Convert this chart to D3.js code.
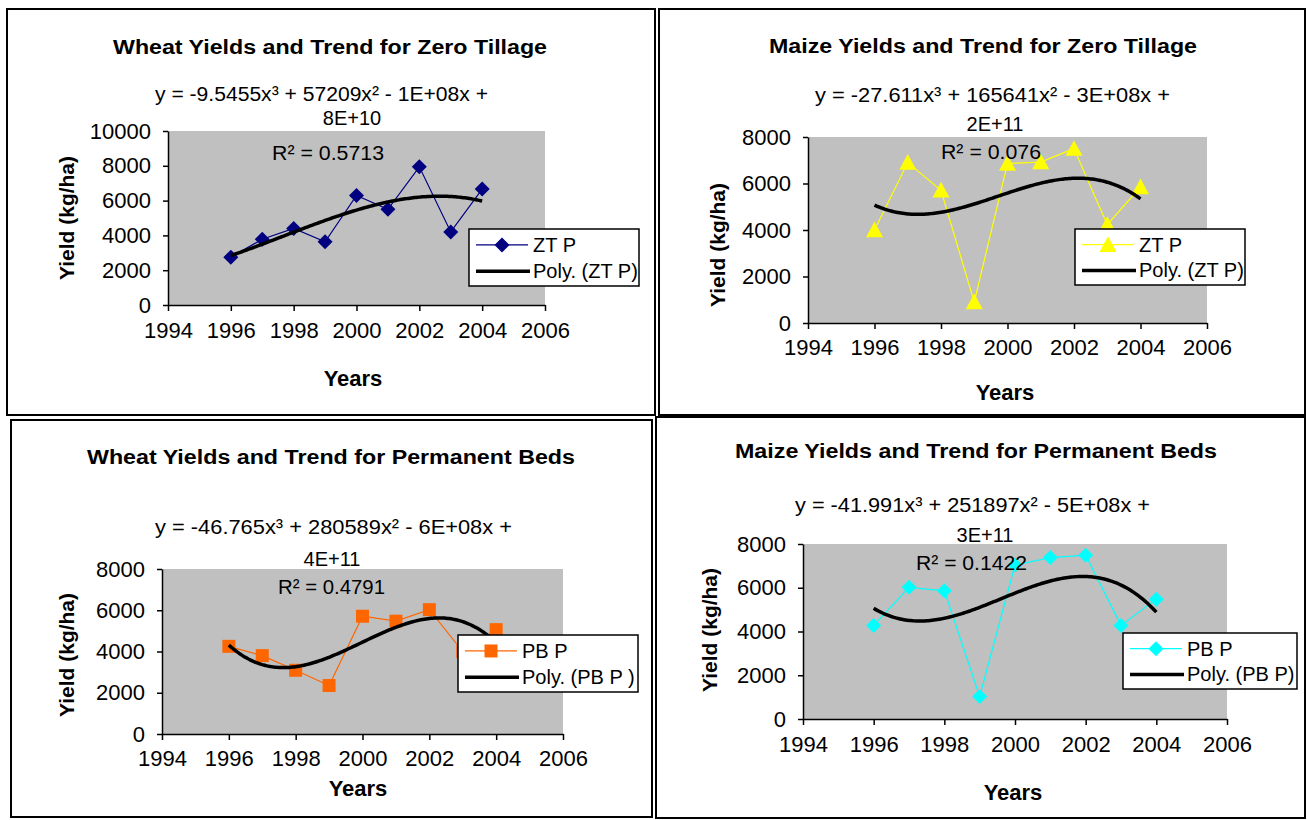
<!DOCTYPE html>
<html><head><meta charset="utf-8">
<script src="https://cdn.jsdelivr.net/npm/d3@7"></script>
<style>body{margin:0;background:#fff} text{font-family:"Liberation Sans",Arial,sans-serif;fill:#000}</style>
</head><body><svg id="c" width="1307" height="820"></svg>
<script>
// ---- data ----
const years = [1996, 1997, 1998, 1999, 2000, 2001, 2002, 2003, 2004];
const wheatZT = [2750, 3780, 4400, 3630, 6300, 5500, 7940, 4200, 6660];
const maizeZT = [4000, 6900, 5710, 900, 6860, 6920, 7500, 4230, 5850];
const wheatPB = [4250, 3800, 3090, 2350, 5710, 5470, 6030, 4000, 5060];
const maizePB = [4280, 6020, 5860, 1030, 7040, 7380, 7490, 4280, 5480];
const xTicks = [1994, 1996, 1998, 2000, 2002, 2004, 2006];
const yTicksA = [0, 2000, 4000, 6000, 8000, 10000];
const yTicksB = [0, 2000, 4000, 6000, 8000];
const titles = ["Wheat Yields and Trend for Zero Tillage", "Maize Yields and Trend for Zero Tillage",
  "Wheat Yields and Trend for Permanent Beds", "Maize Yields and Trend for Permanent Beds"];
const equations = ["y = -9.5455x³ + 57209x² - 1E+08x +", "y = -27.611x³ + 165641x² - 3E+08x +",
  "y = -46.765x³ + 280589x² - 6E+08x +", "y = -41.991x³ + 251897x² - 5E+08x +"];
const eqTails = ["8E+10", "2E+11", "4E+11", "3E+11"];
const r2Labels = ["R² = 0.5713", "R² = 0.076", "R² = 0.4791", "R² = 0.1422"];
const seriesNames = ["ZT P", "ZT P", "PB P", "PB P"];
const trendNames = ["Poly. (ZT P)", "Poly. (ZT P)", "Poly. (PB P )", "Poly. (PB P)"];
const xLabel = "Years";
const yLabel = "Yield (kg/ha)";
const seriesData = [wheatZT, maizeZT, wheatPB, maizePB];
const colors = ["#000080", "#FFFF00", "#FF6600", "#00FFFF"];
const markers = ["diamond", "triangle", "square", "diamond"];
const yTickSets = [yTicksA, yTicksB, yTicksB, yTicksB];

// ---- layout ----
const L = [
 {frame:[7,9,648,406], plot:[168,545,131,305], title:[113,547,47], eq:[155,488,94], eq2:[352,118], r2:[272,384,153], xl:338, years:[353,378], yl:[67,218], leg:[469,229,170,57]},
 {frame:[659,9,646,406], plot:[808,1207,137,323], title:[769,1197,46], eq:[815,1170,95], eq2:[995,124], r2:[941,1041,152], xl:355, years:[1005,392], yl:[718,245], leg:[1075,229,170,56]},
 {frame:[11,420,641,397], plot:[162,563,569,734], title:[87,575,457], eq:[155,512,527], eq2:[332,559], r2:[278,385,587], xl:766, years:[358,788], yl:[67,655], leg:[458,635,180,57]},
 {frame:[656,417,649,401], plot:[803,1227,544,719], title:[735,1217,451], eq:[795,1150,505], eq2:[985,535], r2:[916,1027,563], xl:752, years:[1013,792], yl:[710,630], leg:[1123,633,174,56]}
];

function polyfit(xs, ys, deg) {
  const n = deg + 1, A = [], b = [];
  for (let i = 0; i < n; i++) { A.push(new Array(n).fill(0)); b.push(0); }
  xs.forEach((x, k) => {
    for (let i = 0; i < n; i++) {
      b[i] += ys[k] * Math.pow(x, i);
      for (let j = 0; j < n; j++) A[i][j] += Math.pow(x, i + j);
    }
  });
  for (let i = 0; i < n; i++) {
    let p = i; for (let r = i + 1; r < n; r++) if (Math.abs(A[r][i]) > Math.abs(A[p][i])) p = r;
    [A[i], A[p]] = [A[p], A[i]]; [b[i], b[p]] = [b[p], b[i]];
    for (let r = i + 1; r < n; r++) { const f = A[r][i] / A[i][i];
      for (let c = i; c < n; c++) A[r][c] -= f * A[i][c]; b[r] -= f * b[i]; }
  }
  const c = new Array(n).fill(0);
  for (let i = n - 1; i >= 0; i--) { let s = b[i]; for (let j = i + 1; j < n; j++) s -= A[i][j] * c[j]; c[i] = s / A[i][i]; }
  return c;
}

function markerPath(type, r) {
  if (type === "diamond") return `M0,${-r}L${r},0L0,${r}L${-r},0Z`;
  if (type === "triangle") return `M0,${-r}L${r},${r*0.85}L${-r},${r*0.85}Z`;
  return `M${-r},${-r}H${r}V${r}H${-r}Z`;
}
const mSize = {diamond: 7.5, triangle: 8.5, square: 6.5};

const svg = d3.select("#c");

L.forEach((cfg, i) => {
  const g = svg.append("g");
  const [fx, fy, fw, fh] = cfg.frame;
  g.append("rect").attr("x", fx).attr("y", fy).attr("width", fw).attr("height", fh)
    .attr("fill", "#fff").attr("stroke", "#000").attr("stroke-width", 2);
  const [px0, px1, py0, py1] = cfg.plot;
  const yt = yTickSets[i];
  const x = d3.scaleLinear().domain([1994, 2006]).range([px0, px1]);
  const y = d3.scaleLinear().domain([0, d3.max(yt)]).range([py1, py0]);
  g.append("rect").attr("x", px0).attr("y", py0).attr("width", px1 - px0).attr("height", py1 - py0).attr("fill", "#C0C0C0");

  // axes
  const ya = g.append("g").attr("transform", `translate(${px0},0)`)
    .call(d3.axisLeft(y).tickValues(yt).tickFormat(d3.format("d")).tickSize(5).tickSizeOuter(0).tickPadding(12));
  const xa = g.append("g").attr("transform", `translate(0,${py1})`)
    .call(d3.axisBottom(x).tickValues(xTicks).tickFormat(d3.format("d")).tickSize(6).tickSizeOuter(0).tickPadding(cfg.xl - py1 - 6 - 16));
  [ya, xa].forEach(a => {
    a.select(".domain").attr("stroke", "#000").attr("stroke-width", 1.5);
    a.selectAll(".tick line").attr("stroke", "#000").attr("stroke-width", 1.5);
    a.selectAll(".tick text").attr("font-size", 22).attr("font-family", '"Liberation Sans",Arial,sans-serif').attr("fill", "#000");
  });

  // series
  const vals = seriesData[i];
  const pts = years.map((yr, k) => [yr, vals[k]]);
  g.append("path").datum(pts).attr("fill", "none").attr("stroke", colors[i]).attr("stroke-width", 1.2)
    .attr("d", d3.line().x(d => x(d[0])).y(d => y(d[1])));
  g.selectAll(null).data(pts).enter().append("path")
    .attr("transform", d => `translate(${x(d[0])},${y(d[1])})`)
    .attr("d", markerPath(markers[i], mSize[markers[i]])).attr("fill", colors[i]);

  // trend (cubic least-squares fit, centred years)
  const c = polyfit(years.map(v => v - 2000), vals, 3);
  const f = t => c[0] + c[1]*t + c[2]*t*t + c[3]*t*t*t;
  const tr = d3.range(1996, 2004.001, 0.05).map(v => [v, f(v - 2000)]);
  g.append("path").datum(tr).attr("fill", "none").attr("stroke", "#000").attr("stroke-width", 3.5)
    .attr("d", d3.line().x(d => x(d[0])).y(d => y(d[1])));

  // texts
  const txt = (xx, yy, s, size, opts = {}) => {
    const t = g.append("text").attr("x", xx).attr("y", yy).attr("dy", "0.35em").attr("font-size", size).text(s);
    if (opts.bold) t.attr("font-weight", "bold");
    t.attr("text-anchor", opts.anchor || "start");
    if (opts.len) t.attr("textLength", opts.len).attr("lengthAdjust", "spacingAndGlyphs");
    return t;
  };
  txt(cfg.title[0], cfg.title[2], titles[i], 20, {bold: true, len: cfg.title[1] - cfg.title[0]});
  txt(cfg.eq[0], cfg.eq[2], equations[i], 20, {len: cfg.eq[1] - cfg.eq[0]});
  txt(cfg.eq2[0], cfg.eq2[1], eqTails[i], 20, {anchor: "middle"});
  txt(cfg.r2[0], cfg.r2[2], r2Labels[i], 20, {len: cfg.r2[1] - cfg.r2[0]});
  txt(cfg.years[0], cfg.years[1], xLabel, 22, {bold: true, anchor: "middle"});
  g.append("text").attr("transform", `translate(${cfg.yl[0]},${cfg.yl[1]}) rotate(-90)`)
    .attr("dy", "0.35em").attr("text-anchor", "middle").attr("font-size", 21).attr("font-weight", "bold").text(yLabel);

  // legend
  const [lx, ly, lw, lh] = cfg.leg;
  const lg = g.append("g");
  lg.append("rect").attr("x", lx).attr("y", ly).attr("width", lw).attr("height", lh)
    .attr("fill", "#fff").attr("stroke", "#000").attr("stroke-width", 1.5);
  const r1 = ly + lh * 0.28, r2 = ly + lh * 0.74;
  lg.append("line").attr("x1", lx + 7).attr("x2", lx + 59).attr("y1", r1).attr("y2", r1).attr("stroke", colors[i]).attr("stroke-width", 1.2);
  lg.append("path").attr("transform", `translate(${lx + 33},${r1})`).attr("d", markerPath(markers[i], mSize[markers[i]])).attr("fill", colors[i]);
  lg.append("line").attr("x1", lx + 7).attr("x2", lx + 61).attr("y1", r2).attr("y2", r2).attr("stroke", "#000").attr("stroke-width", 3.5);
  lg.append("text").attr("x", lx + 64).attr("y", r1).attr("dy", "0.35em").attr("font-size", 20).text(seriesNames[i]);
  lg.append("text").attr("x", lx + 64).attr("y", r2).attr("dy", "0.35em").attr("font-size", 20).text(trendNames[i]);
});
</script></body></html>
